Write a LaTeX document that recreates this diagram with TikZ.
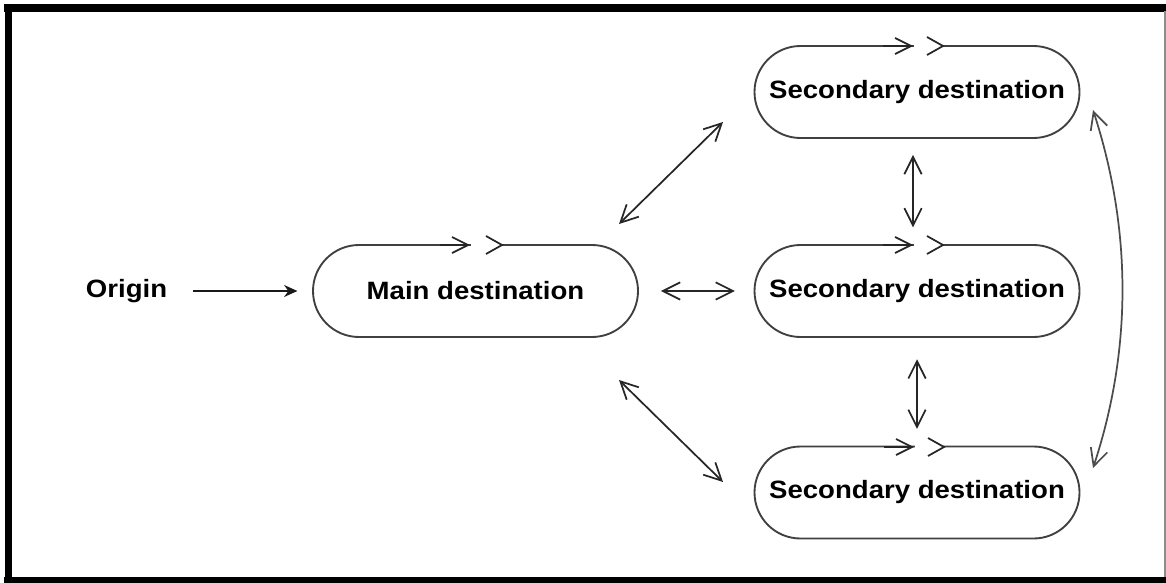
\documentclass[tikz,border=0pt]{standalone}
\usepackage{fontspec}
\setmainfont{Liberation Sans}[FakeStretch=1.1]
\usetikzlibrary{arrows.meta,shapes.misc}
\begin{document}
\begin{tikzpicture}[x=0.75pt,y=-0.75pt,
  dest/.style={rounded rectangle, draw=black!75, line width=1.4pt, inner sep=0pt,
    minimum width=243.75pt, minimum height=69pt, font=\bfseries\fontsize{18.8}{20}\selectfont},
  lbl/.style={inner sep=0pt, font=\bfseries\fontsize{18.8}{20}\selectfont},
  dbl/.style={line width=1.3pt, draw=black!85, {Straight Barb[length=13pt,width=13pt,line width=1.3pt]}-{Straight Barb[length=13pt,width=13pt,line width=1.3pt]}},
  single/.style={line width=1.3pt, draw=black!85, -{Straight Barb[length=12pt,width=12pt,line width=1.3pt]}},
  chev/.style={line width=1.3pt, draw=black!85}
]
\useasboundingbox (0,0) rectangle (1166,582);
% frame
\draw[line width=5.5pt] (8.5,4) -- (8.5,582);
\draw[line width=6pt] (4,8) -- (1166,8);
\draw[line width=4.5pt] (4,580) -- (1166,580);
\draw[line width=0.8pt, black!45] (1165,11) -- (1165,577);

% nodes
\node[lbl] (origin) at (126.5,291) {Origin};
\node[dest] (main) at (475.5,291) {Main destination};
\node[dest] (s1) at (917,92) {Secondary destination};
\node[dest] (s2) at (917,291) {Secondary destination};
\node[dest] (s3) at (917,492.5) {Secondary destination};

% top-edge arrow marks
% main
\fill[white] (471,240) rectangle (501,250);
\draw[single] (440,245) -- (470,245);
\draw[chev] (486,236) -- (502,245) -- (486,254);
% s1
\fill[white] (914,41) rectangle (942,51);
\draw[single] (883,46) -- (913,46);
\draw[chev] (927,37) -- (943,46) -- (927,55);
% s2
\fill[white] (914,240) rectangle (942,250);
\draw[single] (883,245) -- (913,245);
\draw[chev] (927,236) -- (943,245) -- (927,254);
% s3
\fill[white] (915,442) rectangle (943,452);
\draw[single] (884,447) -- (914,447);
\draw[chev] (928,438) -- (944,447) -- (928,456);

% connectors
\draw[line width=1.3pt, draw=black!90, -{Stealth[length=10pt,width=9pt]}, shorten <=19.5pt, shorten >=11pt] (origin.east) -- (main.west);
\draw[dbl, shorten <=16.5pt, shorten >=14pt] (main.east) -- (s2.west);
\coordinate (d1a) at (619,224);
\coordinate (d1b) at (723,122);
\coordinate (d2a) at (619,380);
\coordinate (d2b) at (723,482);
\draw[dbl] (d1a) -- (d1b);
\draw[dbl] (d2a) -- (d2b);
\draw[dbl, shorten <=12pt, shorten >=12.5pt] ([xshift=-3pt]s1.south) -- ([xshift=-3pt]s2.north);
\draw[dbl, shorten <=16pt, shorten >=12.5pt] (s2.south) -- (s3.north);
\coordinate (ca) at (1093,110);
\coordinate (cb) at (1093,468);
\draw[dbl, draw=black!70] (ca) .. controls (1132,230) and (1132,350) .. (cb);
\end{tikzpicture}
\end{document}
